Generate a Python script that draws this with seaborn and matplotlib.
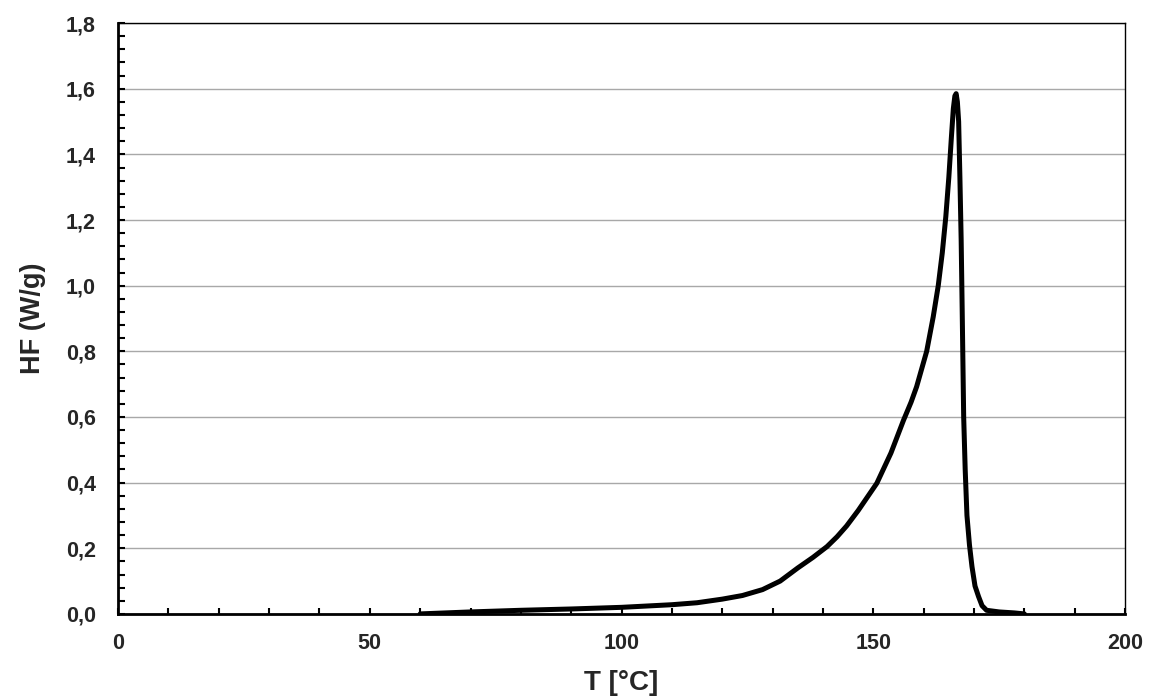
import matplotlib
matplotlib.use("Agg")
import matplotlib.pyplot as plt
import seaborn as sns
import pandas as pd
from matplotlib.ticker import MultipleLocator, FuncFormatter

# Data
temperature = [60, 70, 80, 90, 100, 110, 115, 120, 124, 128, 131.5, 135, 138, 140.8,
               142.8, 144.7, 147, 150.7, 153.5, 156, 157.5, 158.6, 160.6, 161.9,
               162.9, 163.7, 164.4, 165.0, 165.5, 165.9, 166.2, 166.45, 166.7,
               166.95, 167.2, 167.45, 167.65, 167.95, 168.25, 168.6, 169.1, 169.6,
               170.2, 170.9, 171.6, 172.5, 175, 178, 180]
heat_flow = [0.0, 0.006, 0.011, 0.015, 0.020, 0.028, 0.034, 0.045, 0.056, 0.074,
             0.10, 0.14, 0.172, 0.205, 0.235, 0.268, 0.315, 0.398, 0.49, 0.59,
             0.645, 0.692, 0.80, 0.905, 1.0, 1.10, 1.21, 1.33, 1.45, 1.54, 1.578,
             1.585, 1.56, 1.50, 1.33, 1.14, 0.93, 0.60, 0.44, 0.30, 0.21, 0.144,
             0.085, 0.053, 0.025, 0.011, 0.006, 0.003, 0.0]

x_label = "T [°C]"
y_label = "HF (W/g)"

df = pd.DataFrame({"T": temperature, "HF": heat_flow})

sns.set_style("white")
plt.rcParams["font.family"] = ["Liberation Sans", "DejaVu Sans"]
plt.rcParams["font.weight"] = "bold"

fig = plt.figure(figsize=(11.62, 7.0), dpi=100)
ax = fig.add_axes([0.1016, 0.123, 0.8666, 0.844])

sns.lineplot(data=df, x="T", y="HF", ax=ax, color="black", linewidth=3.6,
             sort=False, estimator=None)
for ln in ax.get_lines():
    ln.set_solid_joinstyle("round")
    ln.set_solid_capstyle("round")

ax.set_xlim(0, 200)
ax.set_ylim(0, 1.8)

ax.xaxis.set_major_locator(MultipleLocator(50))
ax.xaxis.set_minor_locator(MultipleLocator(10))
ax.yaxis.set_major_locator(MultipleLocator(0.2))
ax.yaxis.set_minor_locator(MultipleLocator(0.04))

ax.xaxis.set_major_formatter(FuncFormatter(lambda v, p: f"{v:.0f}"))
ax.yaxis.set_major_formatter(FuncFormatter(lambda v, p: f"{v:.1f}".replace(".", ",")))

ax.grid(axis="y", which="major", color="#a8a8a8", linewidth=1.0)
ax.grid(axis="x", visible=False)
ax.set_axisbelow(True)

ax.tick_params(axis="both", which="both", direction="in", color="black",
               bottom=True, left=True, top=False, right=False)
ax.tick_params(axis="x", which="both", length=4, width=1.5, pad=14, labelsize=15.5)
ax.tick_params(axis="y", which="both", length=5, width=1.5, pad=16, labelsize=15.5)

for lab in ax.get_xticklabels() + ax.get_yticklabels():
    lab.set_fontweight("bold")

for side in ["left", "bottom"]:
    ax.spines[side].set_linewidth(2.0)
    ax.spines[side].set_color("black")
for side in ["top", "right"]:
    ax.spines[side].set_linewidth(1.0)
    ax.spines[side].set_color("black")
    ax.spines[side].set_visible(True)

ax.set_xlabel(x_label, fontsize=20, fontweight="bold", labelpad=11)
ax.set_ylabel(y_label, fontsize=19.5, fontweight="bold", labelpad=14)

fig.savefig("out.png", dpi=100)
